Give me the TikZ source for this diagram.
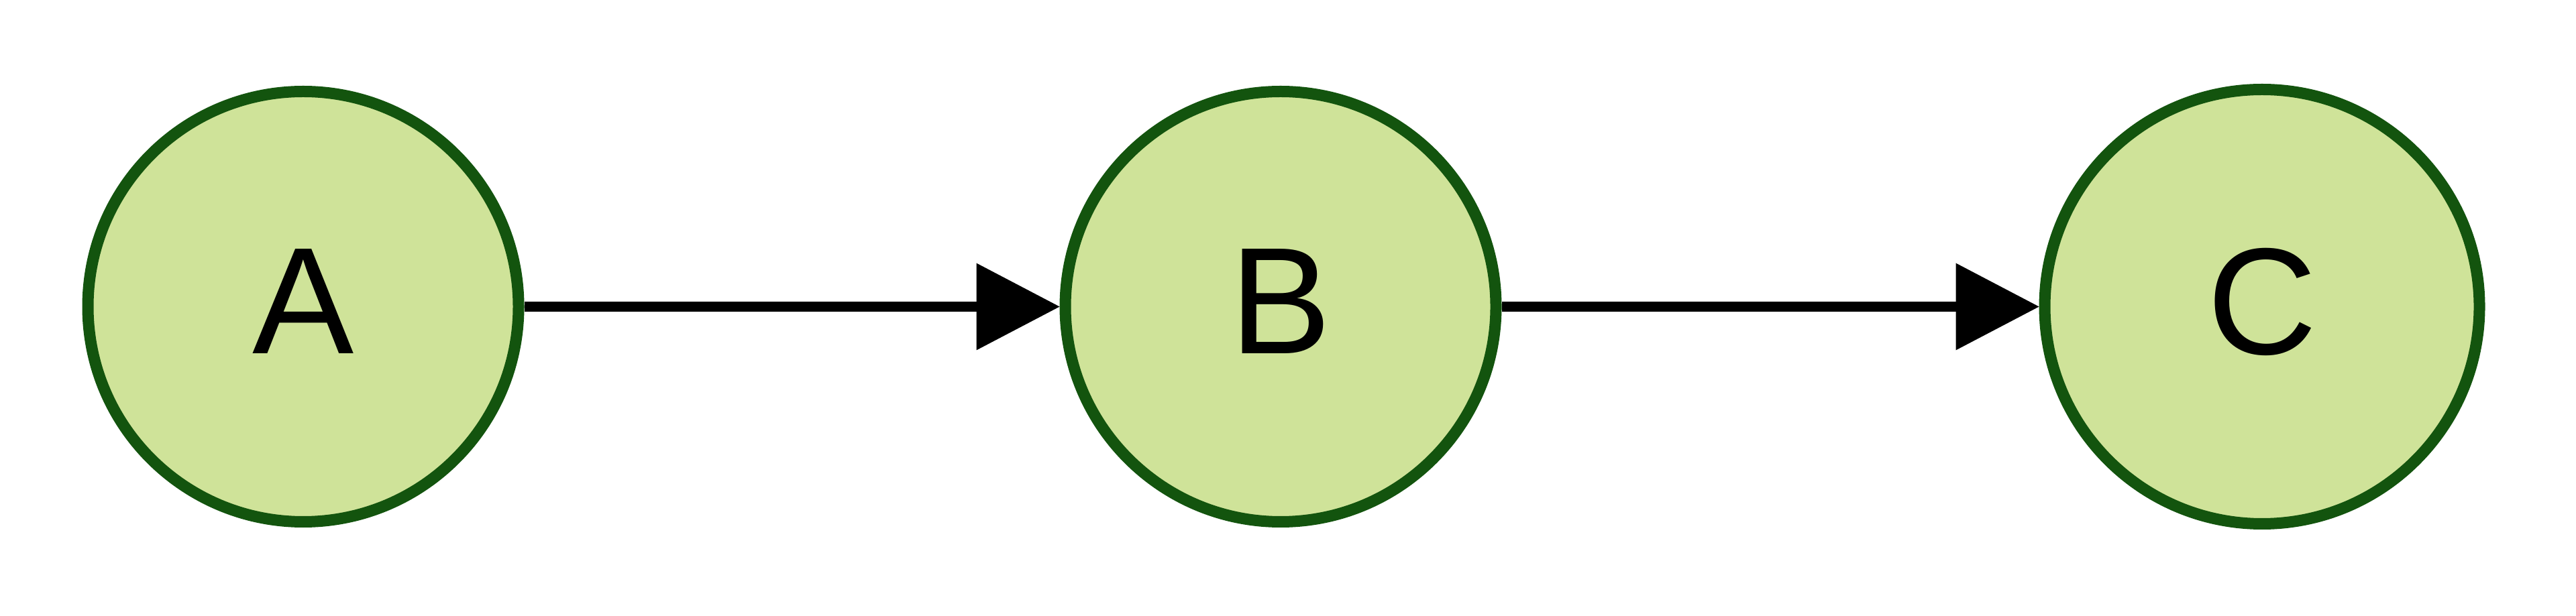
\documentclass[tikz,border=0pt]{standalone}
\usepackage{fontspec}
\setmainfont{Liberation Sans}
\usetikzlibrary{arrows.meta}
\definecolor{nodefill}{RGB}{207,227,153}
\definecolor{nodeline}{RGB}{19,84,14}
\begin{document}
\begin{tikzpicture}
\useasboundingbox (0,0) rectangle (38.4,9.18);
\tikzset{
  statenode/.style={circle, draw=nodeline, fill=nodefill, line width=0.17cm,
    minimum size=6.42cm, inner sep=0pt, text depth=0.16cm,
    font=\fontsize{64.5pt}{77pt}\selectfont},
  edgeline/.style={line width=0.15cm, draw=black,
    -{Triangle[length=1.24cm, width=1.30cm, line width=0pt]}}
}
\node[statenode] (A) at (4.52,4.605) {A};
\node[statenode] (B) at (19.09,4.605) {B};
\node[statenode, minimum size=6.48cm] (C) at (33.72,4.605) {C};
\draw[edgeline] (A) -- (B);
\draw[edgeline] (B) -- (C);
\end{tikzpicture}
\end{document}
